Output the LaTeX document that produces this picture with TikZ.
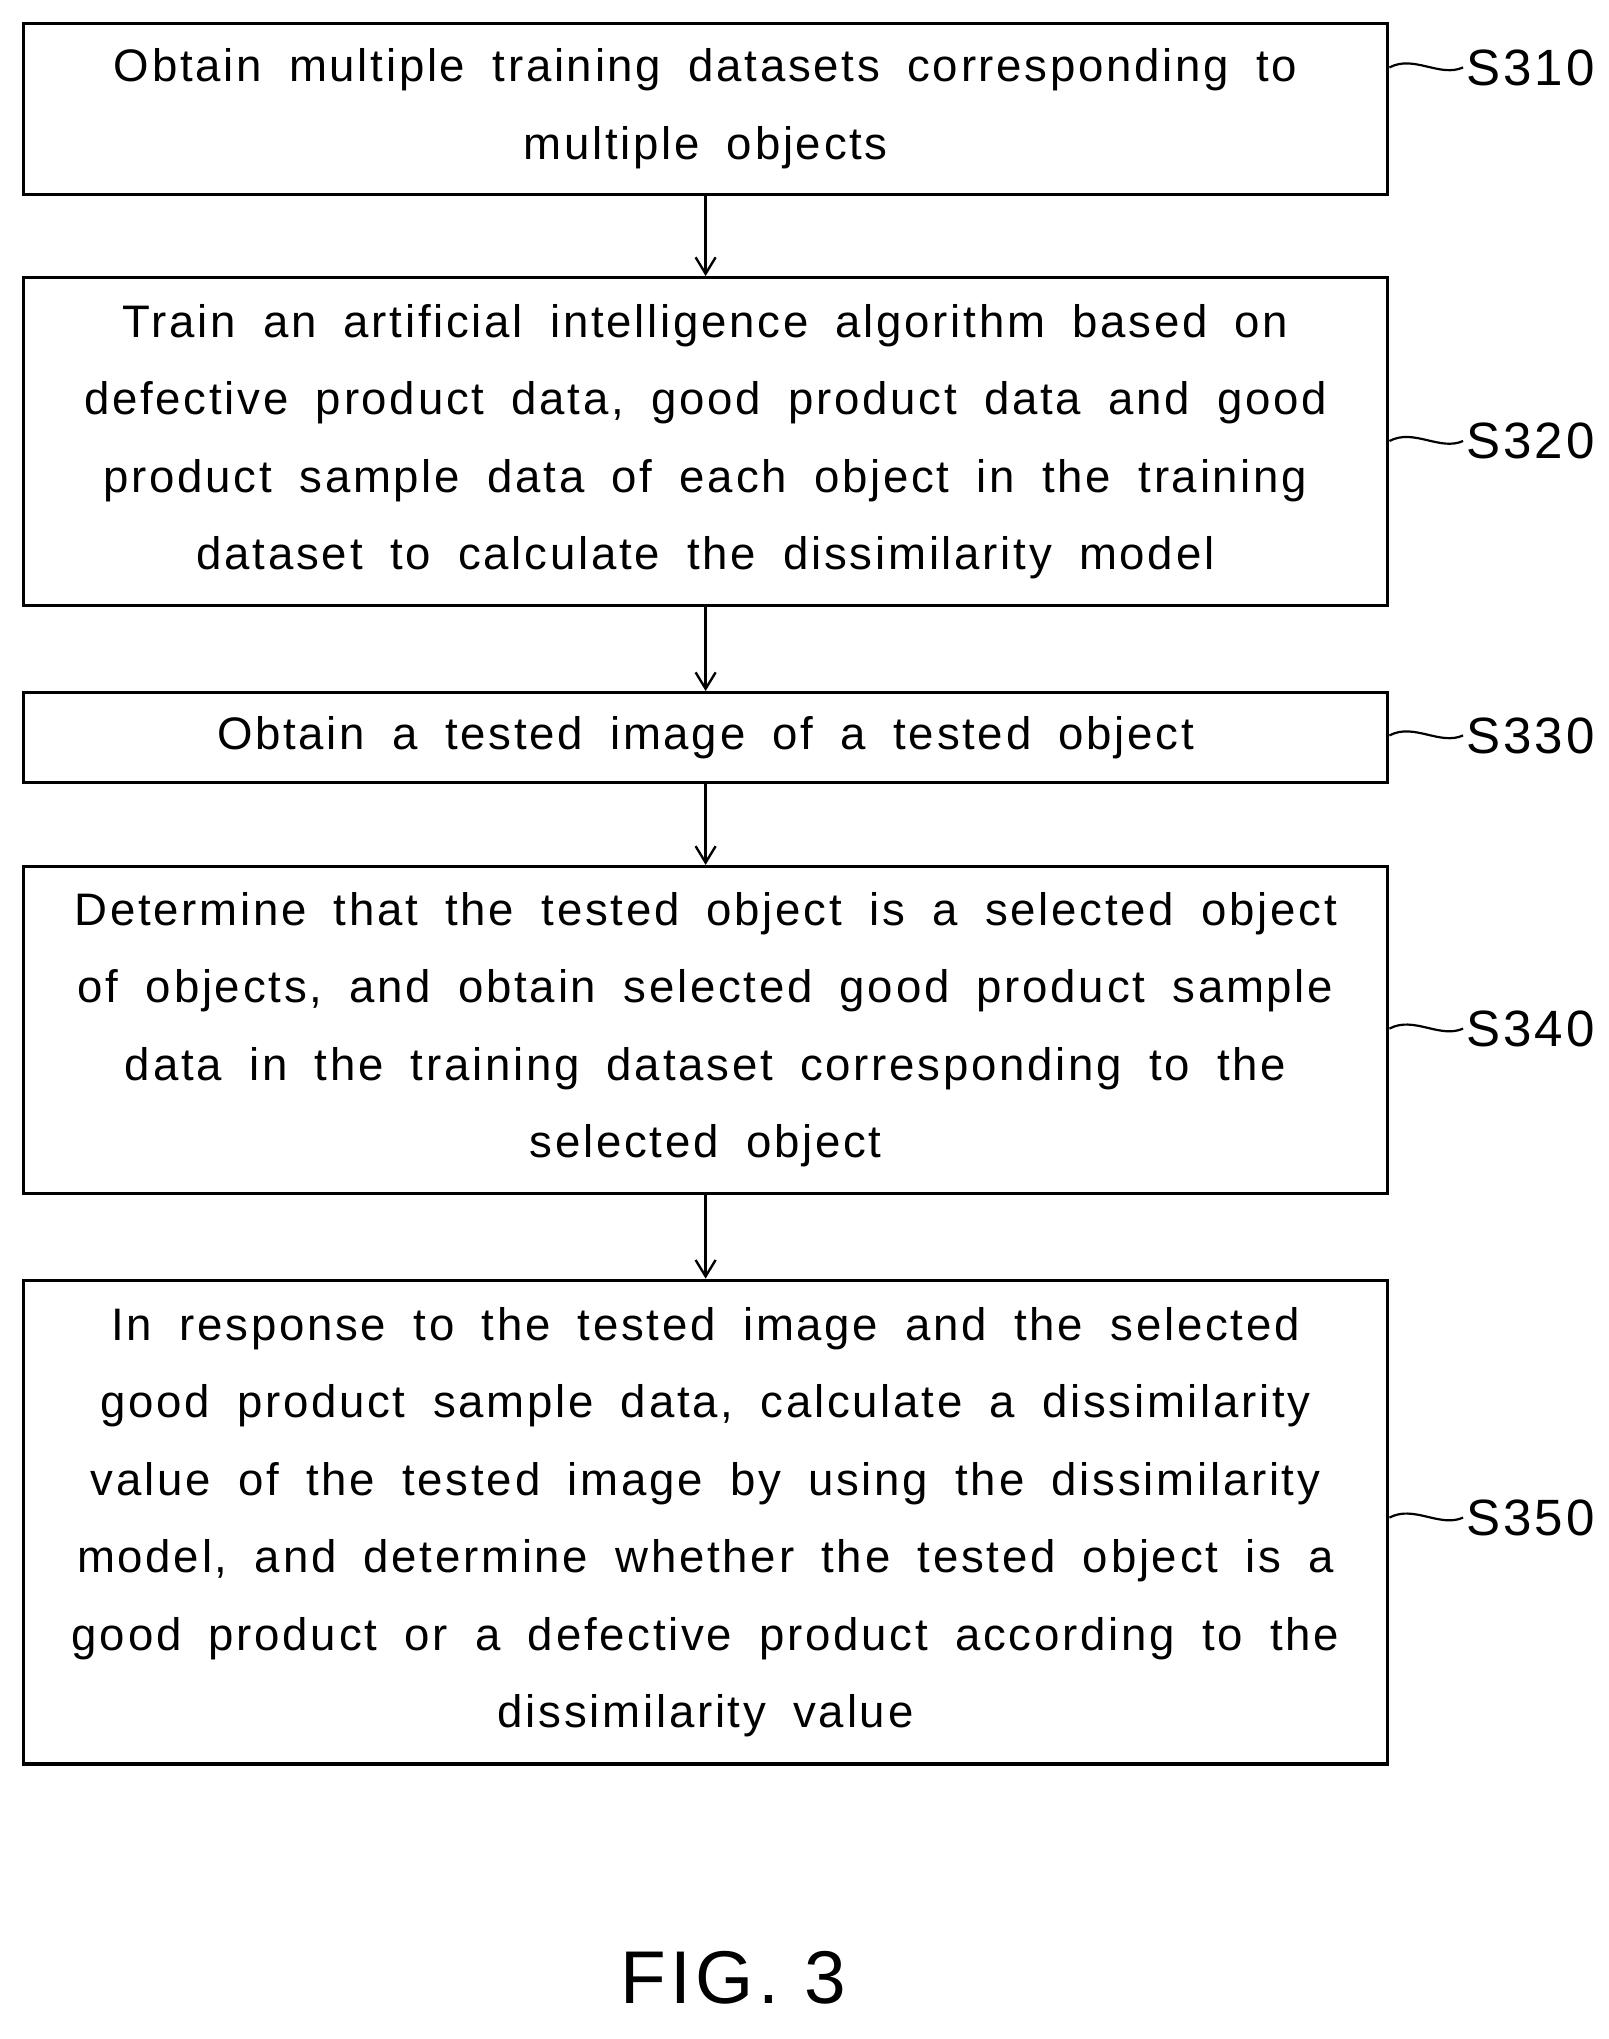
\documentclass[tikz,border=0pt]{standalone}
\usepackage{fontspec}
\setmainfont{Liberation Sans}[LetterSpace=6]
\usetikzlibrary{arrows.meta}
\newcommand\myboxfont{\fontsize{50}{85}\selectfont\spaceskip=0.6em\relax}
\begin{document}
\begin{tikzpicture}[x=0.05cm,y=-0.05cm,
  box/.style={draw,line width=3.5pt,minimum width=52.6cm,inner sep=0pt,align=center,font=\myboxfont},
  lab/.style={font=\fontsize{56}{60}\selectfont,anchor=west},
  arr/.style={line width=2.6pt,-{Straight Barb[length=18pt,width=22pt]}}]
\useasboundingbox (0,0) rectangle (1240,1572);
\node[box,minimum height=6.6cm] (b1) at (544,84) {Obtain multiple training datasets corresponding to\\multiple objects};
\node[box,minimum height=12.65cm] (b2) at (544,340.5) {Train an artificial intelligence algorithm based on\\defective product data, good product data and good\\product sample data of each object in the training\\dataset to calculate the dissimilarity model};
\node[box,minimum height=3.45cm] (b3) at (544,568.5) {Obtain a tested image of a tested object};
\node[box,minimum height=12.6cm] (b4) at (544,794) {Determine that the tested object is a selected object\\of objects, and obtain selected good product sample\\data in the training dataset corresponding to the\\selected object};
\node[box,minimum height=18.65cm] (b5) at (544,1173.5) {In response to the tested image and the selected\\good product sample data, calculate a dissimilarity\\value of the tested image by using the dissimilarity\\model, and determine whether the tested object is a\\good product or a defective product according to the\\dissimilarity value};
\foreach \a/\b in {b1/b2,b2/b3,b3/b4,b4/b5} \draw[arr] (\a.south) -- (\b.north);
\foreach \n/\t/\y in {b1/S310/52,b2/S320/340,b3/S330/567,b4/S340/793,b5/S350/1170}{
  \node[lab] (l\n) at (1128,\y) {\t};
  \draw[line width=2.4pt] (\n.east |- 0,\y) .. controls (1090,\y-10) and (1110,\y+8) .. (l\n.west);
}
\node[font=\fontsize{82}{90}\selectfont] (fig) at (565,1525) {FIG.\ 3};
\end{tikzpicture}
\end{document}
